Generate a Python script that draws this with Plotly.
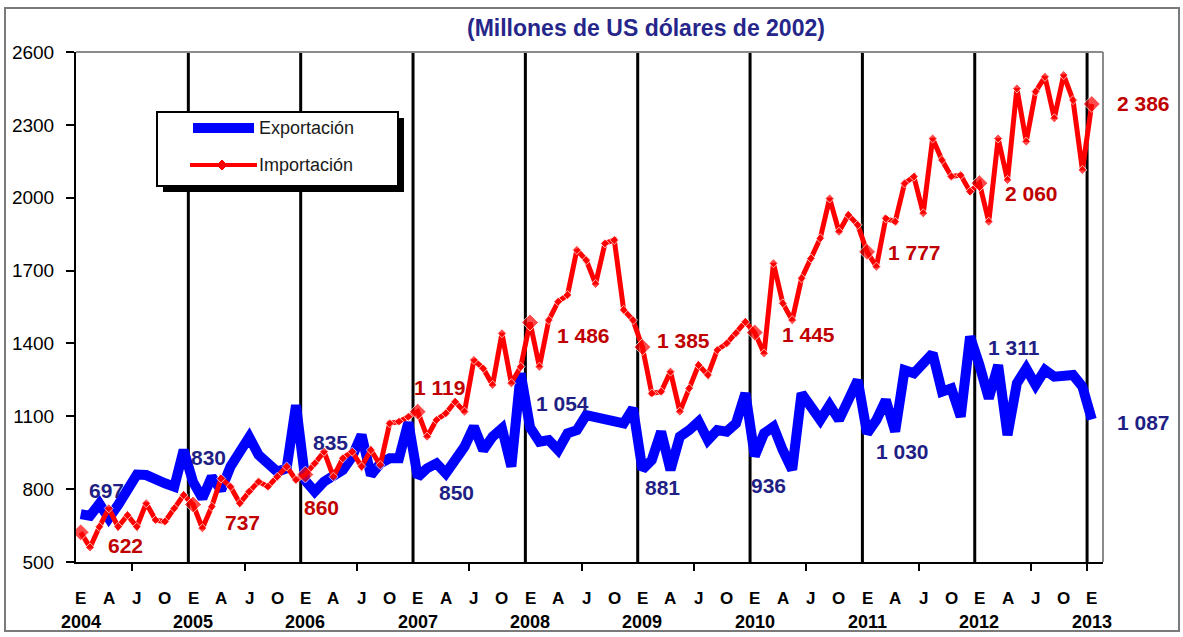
import plotly.graph_objects as go
import numpy as np
import pandas as pd

# Monthly series, Jan 2004 - Jan 2013 (millions of 2002 US dollars)
months = pd.date_range("2004-01-01", "2013-01-01", freq="MS")

exportacion = [
    697, 690, 740, 680, 735, 800, 860, 858, 838, 824, 810, 961,       # 2004
    830, 762, 851, 796, 893, 961, 1014, 941, 899, 872, 886, 1146,     # 2005
    835, 790, 831, 851, 879, 934, 1023, 858, 906, 927, 927, 1075,     # 2006
    850, 886, 906, 865, 920, 975, 1057, 961, 1016, 1050, 893, 1277,   # 2007
    1054, 995, 1002, 961, 1030, 1043, 1105, 1095, 1085, 1078, 1071, 1133,  # 2008
    881, 920, 1037, 879, 1016, 1043, 1078, 1002, 1043, 1037, 1071, 1195,   # 2009
    936, 1030, 1057, 960, 880, 1194, 1139, 1085, 1146, 1085, 1167, 1249,  # 2010
    1030, 1085, 1167, 1037, 1290, 1277, 1318, 1359, 1201, 1215, 1098, 1428,  # 2011
    1311, 1174, 1311, 1023, 1236, 1297, 1229, 1291, 1263, 1270, 1270, 1222,  # 2012
    1087,                                                              # 2013
]

importacion = [
    622, 560, 645, 721, 645, 693, 645, 742, 673, 666, 721, 776,       # 2004
    737, 639, 728, 844, 810, 742, 790, 831, 810, 851, 893, 838,       # 2005
    860, 906, 954, 851, 927, 954, 893, 961, 899, 1071, 1078, 1098,    # 2006
    1119, 1016, 1085, 1112, 1160, 1119, 1332, 1297, 1229, 1442, 1236, 1304,  # 2007
    1486, 1304, 1496, 1572, 1599, 1785, 1743, 1645, 1812, 1826, 1538, 1496,  # 2008
    1385, 1194, 1201, 1284, 1119, 1215, 1311, 1270, 1373, 1400, 1442, 1489,  # 2009
    1445, 1359, 1730, 1565, 1496, 1668, 1750, 1833, 1997, 1860, 1929, 1888,  # 2010
    1777, 1716, 1915, 1901, 2059, 2087, 1936, 2244, 2155, 2087, 2093, 2025,  # 2011
    2060, 1901, 2244, 2073, 2450, 2231, 2437, 2498, 2327, 2505, 2402, 2114,  # 2012
    2386,                                                              # 2013
]

# January values written on the chart
exp_labels = ["697", "830", "835", "850", "1 054", "881", "936", "1 030", "1 311", "1 087"]
imp_labels = ["622", "737", "860", "1 119", "1 486", "1 385", "1 445", "1 777", "2 060", "2 386"]

month_letters = {1: "E", 4: "A", 7: "J", 10: "O"}
y_ticks = [500, 800, 1100, 1400, 1700, 2000, 2300, 2600]

FONT = "Arial, Liberation Sans, sans-serif"
W, H = 1183, 637
L, R, T, B = 76, 1103, 52, 562   # plot area in pixels


def px(xp):
    return (xp - L) / (R - L)


def py(yp):
    return 1 - (yp - T) / (B - T)


def label(text, x, y, size, color, xref="paper", xanchor="center"):
    return dict(text=text, xref=xref, yref="paper", x=x, y=y, showarrow=False,
                xanchor=xanchor, yanchor="middle",
                font=dict(family=FONT, size=size, color=color))


x = np.arange(len(months))
jan_idx = [i for i, m in enumerate(months) if m.month == 1]
marker_sizes = [13 if m.month == 1 else 7 for m in months]

fig = go.Figure()
fig.add_trace(go.Scatter(
    x=x, y=exportacion, mode="lines", name="Exportación",
    line=dict(color="#0000FF", width=10), showlegend=False,
))
fig.add_trace(go.Scatter(
    x=x, y=importacion, mode="lines+markers", name="Importación",
    line=dict(color="#FF0000", width=5),
    marker=dict(symbol="diamond", size=marker_sizes, color="#FF0000"),
    showlegend=False,
))

shapes = []
# vertical year separators
for i in jan_idx[1:]:
    shapes.append(dict(type="line", xref="x", yref="y", x0=i - 0.5, x1=i - 0.5,
                       y0=500, y1=2600, line=dict(color="black", width=3), layer="below"))
# grey top / right border of plot area
shapes.append(dict(type="line", xref="paper", yref="paper", x0=0, x1=1, y0=1, y1=1,
                   line=dict(color="#8c8c8c", width=2)))
shapes.append(dict(type="line", xref="paper", yref="paper", x0=1, x1=1, y0=0, y1=1,
                   line=dict(color="#8c8c8c", width=2)))
# outer frame of the whole picture
shapes.append(dict(type="rect", xref="paper", yref="paper",
                   x0=px(5), x1=px(1179), y0=py(8), y1=py(631),
                   line=dict(color="#7a7a7a", width=2), layer="below"))

# legend box (drawn by hand)
shapes.append(dict(type="rect", xref="paper", yref="paper",
                   x0=px(163), x1=px(404), y0=py(118), y1=py(192),
                   fillcolor="black", line=dict(width=0)))
shapes.append(dict(type="rect", xref="paper", yref="paper",
                   x0=px(157), x1=px(398), y0=py(112), y1=py(186),
                   fillcolor="white", line=dict(color="black", width=2)))
shapes.append(dict(type="line", xref="paper", yref="paper",
                   x0=px(193), x1=px(254), y0=py(128), y1=py(128),
                   line=dict(color="#0000FF", width=10)))
shapes.append(dict(type="line", xref="paper", yref="paper",
                   x0=px(190), x1=px(257), y0=py(165), y1=py(165),
                   line=dict(color="#FF0000", width=4)))
cx, cy, d = 222, 165, 5
shapes.append(dict(type="path", xref="paper", yref="paper",
                   path=f"M {px(cx - d)} {py(cy)} L {px(cx)} {py(cy - d)} L {px(cx + d)} {py(cy)} "
                        f"L {px(cx)} {py(cy + d)} Z",
                   fillcolor="#FF0000", line=dict(color="#FF0000", width=1)))

annotations = []
annotations.append(label("<b>(Millones de US dólares de 2002)</b>", px(646), py(28), 23, "#26268a"))
annotations.append(label("Exportación", px(257), py(128), 18, "#1a1a1a", xanchor="left"))
annotations.append(label("Importación", px(257), py(165), 18, "#1a1a1a", xanchor="left"))

# x axis: month letters and years
for i, m in enumerate(months):
    if m.month in month_letters:
        annotations.append(label(f"<b>{month_letters[m.month]}</b>", i, py(598), 17, "black", xref="x"))
    if m.month == 1:
        annotations.append(label(f"<b>{m.year}</b>", i, py(622), 18, "black", xref="x"))

# value labels (pixel centres)
exp_pos = [(106, 490), (208, 457), (330, 442), (456, 492), (562, 403),
           (662, 487), (768, 485), (902, 451), (1014, 347), (1143, 422)]
imp_pos = [(125, 545), (242, 522), (321, 507), (439, 387), (583, 335),
           (683, 340), (808, 334), (914, 253), (1031, 193), (1143, 104)]
for txt, (ax, ay) in zip(exp_labels, exp_pos):
    annotations.append(label(f"<b>{txt}</b>", px(ax), py(ay), 21, "#1f1f85"))
for txt, (ax, ay) in zip(imp_labels, imp_pos):
    annotations.append(label(f"<b>{txt}</b>", px(ax), py(ay), 21, "#c00000"))

fig.update_layout(
    width=W, height=H,
    margin=dict(l=L, r=W - R, t=T, b=H - B),
    plot_bgcolor="white", paper_bgcolor="white",
    showlegend=False,
    shapes=shapes, annotations=annotations,
    xaxis=dict(
        range=[-0.5, 109.2], showgrid=False, zeroline=False,
        showline=True, linecolor="black", linewidth=2,
        showticklabels=False, ticks="",
        minor=dict(tickvals=[5.5 + 12 * k for k in range(9)] + [107.5],
                   ticks="outside", ticklen=7, tickwidth=2, tickcolor="black"),
    ),
    yaxis=dict(
        range=[500, 2600], tickvals=y_ticks, showgrid=False, zeroline=False,
        showline=True, linecolor="black", linewidth=2,
        ticks="outside", ticklen=8, tickwidth=2, tickcolor="black",
        ticklabelstandoff=8,
        tickfont=dict(family=FONT, size=19, color="black"),
        tickprefix="<b>", ticksuffix="</b>",
    ),
)

fig.write_html("out.html", config={"displayModeBar": False},
               post_script="document.body.style.margin='0px';")
